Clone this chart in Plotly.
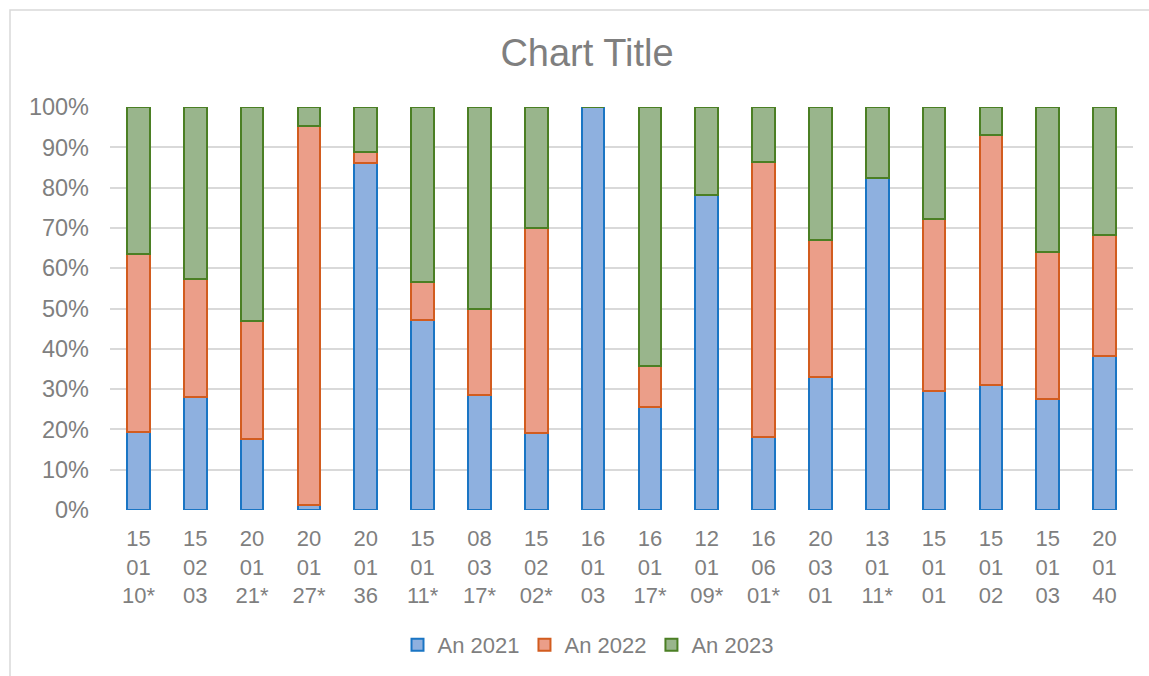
import plotly.graph_objects as go

# ---- data ----
codes = ["15 01 10*", "15 02 03", "20 01 21*", "20 01 27*", "20 01 36", "15 01 11*",
         "08 03 17*", "15 02 02*", "16 01 03", "16 01 17*", "12 01 09*", "16 06 01*",
         "20 03 01", "13 01 11*", "15 01 01", "15 01 02", "15 01 03", "20 01 40"]
an_2021 = [19.3, 28.1, 17.5, 1.2, 86.1, 47.1, 28.5, 19.0, 100.0, 25.6, 78.1, 18.1,
           33.1, 82.4, 29.5, 30.9, 27.5, 38.2]
an_2022 = [44.2, 29.3, 29.4, 94.0, 2.7, 9.4, 21.3, 51.0, 0.0, 10.1, 0.0, 68.3,
           34.0, 0.0, 42.6, 62.1, 36.6, 30.0]
an_2023 = [36.5, 42.6, 53.1, 4.8, 11.2, 43.5, 50.2, 30.0, 0.0, 64.3, 21.9, 13.6,
           32.9, 17.6, 27.9, 7.0, 35.9, 31.8]
series_names = ["An 2021", "An 2022", "An 2023"]
y_ticks = list(range(0, 101, 10))
y_tick_labels = [f"{v}%" for v in y_ticks]

categories = ["<br>".join(c.split(" ")) for c in codes]

fills = ["#8eb0df", "#eb9e89", "#99b58c"]
lines = ["#1a75c4", "#d25c1f", "#4b7f24"]
TXT = "#7f7f7f"
FONT = "Liberation Sans, Arial, sans-serif"

W, H = 1149, 676
ML, MR, MT, MB = 110, 16, 107, 166

fig = go.Figure()
for name, vals, fc, lc in zip(series_names, [an_2021, an_2022, an_2023], fills, lines):
    fig.add_trace(go.Bar(
        x=categories, y=vals, name=name,
        marker=dict(color=fc, line=dict(color=lc, width=2)),
    ))

pw = W - ML - MR
ph = H - MT - MB
fig.update_layout(
    width=W, height=H,
    margin=dict(l=ML, r=MR, t=MT, b=MB),
    barmode="stack", bargap=0.6,
    paper_bgcolor="white", plot_bgcolor="white",
    font=dict(family=FONT, color=TXT, size=22),
    title=dict(text="Chart Title", x=587 / W, xref="container", xanchor="center",
               y=1 - 53 / H, yref="container", yanchor="middle",
               font=dict(size=38, color=TXT, family=FONT)),
    legend=dict(orientation="h", xref="container", yref="container",
                x=588 / W, xanchor="center", y=1 - 645 / H, yanchor="middle",
                font=dict(size=22, color=TXT), traceorder="normal",
                itemwidth=30),
    showlegend=True,
    xaxis=dict(showgrid=False, showline=False, zeroline=False, ticks="",
               tickfont=dict(size=22, color=TXT), ticklabelstandoff=13,
               fixedrange=True),
    yaxis=dict(range=[0, 100], tickmode="array", tickvals=y_ticks,
               ticktext=y_tick_labels,
               showgrid=True, gridcolor="#d9d9d9", gridwidth=1.5,
               zeroline=False, showline=False, ticks="",
               tickfont=dict(size=23.5, color=TXT), ticklabelstandoff=20,
               fixedrange=True),
    shapes=[dict(type="rect", xref="paper", yref="paper",
                 x0=(10 - ML) / pw, x1=(W + 20 - ML) / pw,
                 y0=-(H + 20 - MT - ph) / ph, y1=(H - MB - 10) / ph,
                 line=dict(color="#d9d9d9", width=1.5), fillcolor="rgba(0,0,0,0)",
                 layer="below")],
)

fig.write_html("out.html", post_script="document.body.style.margin='0';",
               config={"displayModeBar": False})
